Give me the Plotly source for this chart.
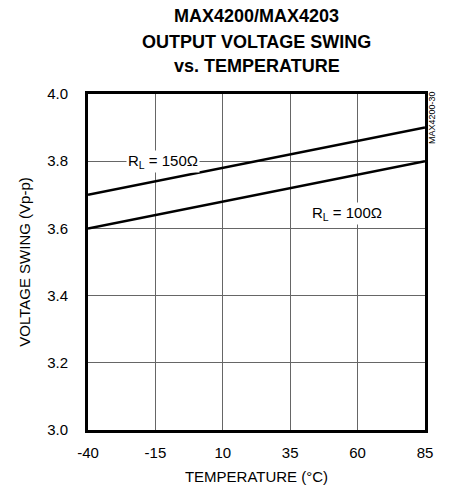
import plotly.graph_objects as go

temperature = [-40, 85]
swing_150 = [3.70, 3.90]
swing_100 = [3.60, 3.80]
x_ticks = [-40, -15, 10, 35, 60, 85]
x_tick_labels = ["-40", "-15", "10", "35", "60", "85"]
y_ticks = [3.0, 3.2, 3.4, 3.6, 3.8, 4.0]
title_lines = ["MAX4200/MAX4203", "OUTPUT VOLTAGE SWING", "vs. TEMPERATURE"]

FONT = "Liberation Sans, Arial, sans-serif"

fig = go.Figure()
fig.add_trace(go.Scatter(x=temperature, y=swing_150, mode="lines",
                         line=dict(color="black", width=2.5), showlegend=False))
fig.add_trace(go.Scatter(x=temperature, y=swing_100, mode="lines",
                         line=dict(color="black", width=2.5), showlegend=False))

fig.add_annotation(x=-12, y=3.80, text="R<sub>L</sub> = 150Ω", showarrow=False,
                   bgcolor="white", font=dict(family=FONT, size=15, color="black"),
                   borderpad=1)
fig.add_annotation(x=56, y=3.645, text="R<sub>L</sub> = 100Ω", showarrow=False,
                   bgcolor="white", font=dict(family=FONT, size=15, color="black"),
                   borderpad=1)
fig.add_annotation(xref="paper", yref="paper", x=1.021, y=0.929, xanchor="center",
                   yanchor="middle", text="MAX4200-30", textangle=-90, showarrow=False,
                   font=dict(family=FONT, size=9, color="black"))

for line, ypos in zip(title_lines, [1.232, 1.155, 1.084]):
    fig.add_annotation(xref="paper", yref="paper", x=0.5, y=ypos, xanchor="center",
                       yanchor="middle", text="<b>" + line + "</b>", showarrow=False,
                       font=dict(family=FONT, size=18, color="black"), borderpad=0)

fig.update_layout(
    width=450, height=492,
    margin=dict(l=80, r=33, t=86, b=70),
    paper_bgcolor="white", plot_bgcolor="white",
    font=dict(family=FONT, size=15, color="black"),
    xaxis=dict(range=[-40, 85], tickvals=x_ticks, ticktext=x_tick_labels, ticks="",
               showgrid=True, gridcolor="#666666", gridwidth=1, zeroline=False,
               showline=True, linecolor="black", linewidth=3, mirror=True,
               ticklabelstandoff=7,
               title=dict(text="TEMPERATURE (°C)", standoff=12,
                          font=dict(family=FONT, size=15)),
               tickfont=dict(family=FONT, size=15)),
    yaxis=dict(range=[3.0, 4.0], tickvals=y_ticks, tickformat=".1f", ticks="",
               showgrid=True, gridcolor="#666666", gridwidth=1, zeroline=False,
               showline=True, linecolor="black", linewidth=3, mirror=True,
               ticklabelstandoff=14,
               title=dict(text="VOLTAGE SWING (Vp-p)", standoff=13,
                          font=dict(family=FONT, size=15)),
               tickfont=dict(family=FONT, size=15)),
)

fig.write_html("out.html")
